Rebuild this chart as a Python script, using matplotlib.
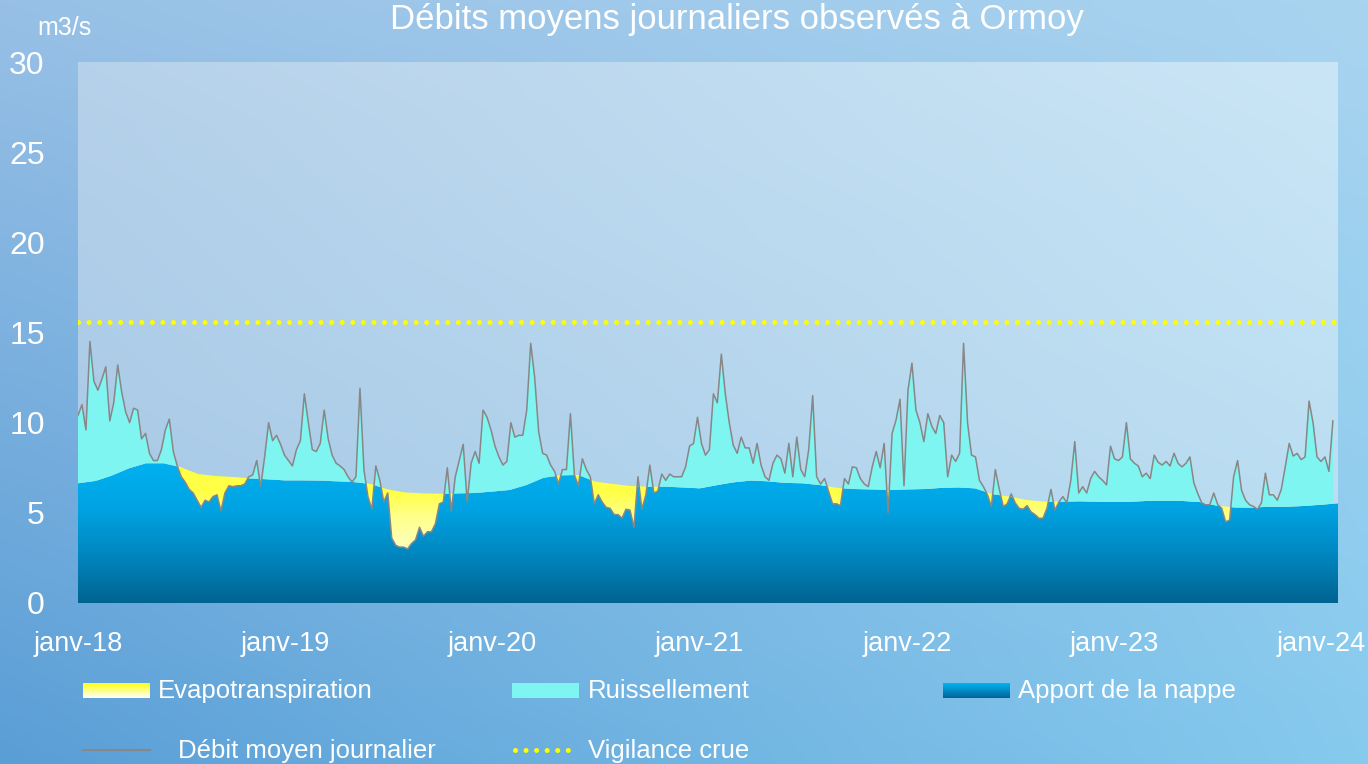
import numpy as np
import matplotlib
matplotlib.use('Agg')
import matplotlib.pyplot as plt
import matplotlib.dates as mdates
from matplotlib.colors import LinearSegmentedColormap, to_rgb
from matplotlib.path import Path
from matplotlib.lines import Line2D

plt.rcParams['font.family'] = ['Liberation Sans', 'DejaVu Sans']

# débit moyen journalier (m3/s), un relevé par semaine depuis le 1er janvier 2018
debit = [
    10.4, 11.0, 9.6, 14.5, 12.3, 11.8, 12.4, 13.1, 10.1, 11.1, 13.2, 11.7, 10.6, 10.0, 10.8, 10.7,
    9.1, 9.4, 8.3, 7.9, 7.9, 8.5, 9.6, 10.2, 8.4, 7.6, 7.0, 6.7, 6.3, 6.1, 5.7, 5.3,
    5.7, 5.6, 5.9, 6.0, 5.1, 6.1, 6.5, 6.45, 6.5, 6.5, 6.6, 7.0, 7.1, 7.9, 6.45, 8.1,
    10.0, 9.0, 9.3, 8.8, 8.2,
    7.9, 7.6, 8.5, 9.0, 11.6, 10.0, 8.5, 8.4, 8.85, 10.7, 9.1, 8.2, 7.75, 7.6, 7.4, 7.0,
    6.7, 7.0, 11.9, 7.4, 5.9, 5.2, 7.6, 6.8, 5.6, 6.1, 3.6, 3.2, 3.1, 3.1, 3.0, 3.3,
    3.5, 4.2, 3.7, 3.95, 3.95, 4.4, 5.5, 5.6, 7.5, 5.1, 7.0, 7.9, 8.8, 5.6, 7.75, 8.4,
    7.75, 10.7, 10.3, 9.6, 8.7,
    8.1, 7.65, 7.85, 10.0, 9.2, 9.3, 9.3, 10.7, 14.4, 12.5, 9.5, 8.3, 8.2, 7.65, 7.3, 6.6,
    7.4, 7.4, 10.5, 7.1, 6.5, 8.0, 7.4, 7.0, 5.5, 6.0, 5.6, 5.3, 5.25, 4.9, 4.9, 4.7,
    5.2, 5.15, 4.2, 7.0, 5.2, 6.0, 7.65, 6.1, 6.2, 7.15, 6.8, 7.15, 7.0, 7.0, 7.0, 7.55,
    8.7, 8.85, 10.3, 8.85, 8.2,
    8.5, 11.6, 11.1, 13.8, 11.6, 10.0, 8.75, 8.3, 9.2, 8.6, 8.6, 7.75, 8.85, 7.65, 7.0, 6.8,
    7.75, 8.2, 8.0, 7.2, 8.85, 7.0, 9.2, 7.4, 7.0, 8.5, 11.5, 7.0, 6.6, 6.9, 6.2, 5.5,
    5.5, 5.4, 6.9, 6.6, 7.55, 7.5, 6.9, 6.6, 6.45, 7.55, 8.4, 7.5, 8.85, 5.0, 9.4, 10.15,
    11.3, 6.5, 11.8, 13.3, 10.7,
    10.0, 8.95, 10.5, 9.8, 9.4, 10.4, 10.0, 7.0, 8.2, 7.85, 8.3, 14.4, 10.0, 8.2, 8.1, 6.8,
    6.45, 6.0, 5.35, 7.4, 6.3, 5.35, 5.5, 6.05, 5.55, 5.25, 5.2, 5.4, 5.05, 4.9, 4.7, 4.7,
    5.25, 6.3, 5.15, 5.6, 5.9, 5.55, 6.8, 8.95, 6.1, 6.45, 6.1, 6.9, 7.3, 7.0, 6.8, 6.55,
    8.7, 8.0, 7.9, 8.1, 10.0,
    8.0, 7.75, 7.6, 7.0, 7.2, 6.9, 8.2, 7.8, 7.65, 7.85, 7.6, 8.3, 7.75, 7.55, 7.75, 8.1,
    6.65, 6.05, 5.55, 5.45, 5.45, 6.1, 5.45, 5.25, 4.5, 4.6, 7.0, 7.9, 6.25, 5.7, 5.45, 5.35,
    5.2, 5.55, 7.2, 6.0, 6.0, 5.7, 6.3, 7.55, 8.85, 8.15, 8.3, 7.95, 8.1, 11.2, 10.0, 8.1,
    7.85, 8.1, 7.3, 10.1,
]

# apport de la nappe (m3/s), une valeur par mois depuis janvier 2018
nappe = [
    6.64, 6.77, 7.06, 7.47, 7.75, 7.75, 7.53, 7.15, 7.04, 6.99, 6.91, 6.86,
    6.80, 6.80, 6.79, 6.75, 6.71, 6.60, 6.30, 6.13, 6.08, 6.06, 6.08, 6.10,
    6.18, 6.27, 6.54, 6.95, 7.08, 7.10, 6.73, 6.60, 6.49, 6.45, 6.45, 6.41,
    6.36, 6.54, 6.69, 6.79, 6.75, 6.66, 6.64, 6.54, 6.38, 6.32, 6.30, 6.27,
    6.30, 6.32, 6.38, 6.41, 6.36, 6.04, 5.90, 5.71, 5.62, 5.62, 5.64, 5.62,
    5.60, 5.62, 5.66, 5.66, 5.66, 5.60, 5.40, 5.30, 5.29, 5.34, 5.34, 5.38,
    5.45, 5.53,
]

vigilance = 15.6
annees = ['2018', '2019', '2020', '2021', '2022', '2023', '2024']
etiquettes = ['janv-18', 'janv-19', 'janv-20', 'janv-21', 'janv-22', 'janv-23', 'janv-24']

jours = np.datetime64('2018-01-01') + 7 * np.arange(len(debit))
mois = np.arange('2018-01', '2024-03', dtype='datetime64[M]')[:len(nappe)].astype('datetime64[D]')
xd = mdates.date2num(jours)
xm = mdates.date2num(mois)
x0 = mdates.date2num(np.datetime64('2018-01-01'))
x1 = mdates.date2num(np.datetime64('2024-01-31'))


def degrade(tl, tr, bl, br, n=120):
    t = np.linspace(0, 1, n)
    X, Y = np.meshgrid(t, t)
    c = [np.array(to_rgb(h)) for h in (tl, tr, bl, br)]
    return (((1 - X) * (1 - Y))[..., None] * c[0] + (X * (1 - Y))[..., None] * c[1]
            + ((1 - X) * Y)[..., None] * c[2] + (X * Y)[..., None] * c[3])


def chemin(coll):
    return Path.make_compound_path(*coll.get_paths())


fig = plt.figure(figsize=(13.68, 7.64), dpi=100)

# fond de la figure
fond = fig.add_axes([0, 0, 1, 1], zorder=-5)
fond.imshow(degrade('#98c0e6', '#a9d4f0', '#5a9ed6', '#86caee'), aspect='auto',
            extent=[0, 1, 0, 1], interpolation='bilinear')
fond.axis('off')

ax = fig.add_axes([78 / 1368, 1 - 603 / 764, (1338 - 78) / 1368, (603 - 62) / 764])
ax.set_facecolor('none')
ax.set_xlim(x0, x1)
ax.set_ylim(0, 30)

fond_graph = degrade('#b6d1ea', '#cae6f6', '#a5c8e6', '#b8dcf1')
ax.imshow(fond_graph, extent=[x0, x1, 0, 30], aspect='auto', zorder=0, interpolation='bilinear')

# zones de découpe
sous_nappe = ax.fill_between(xm, 0, nappe, facecolor='none', edgecolor='none')
sur_nappe = ax.fill_between(xm, nappe, 31, facecolor='none', edgecolor='none')
sous_debit = ax.fill_between(xd, 0, debit, facecolor='none', edgecolor='none')
sur_debit = ax.fill_between(xd, debit, 31, facecolor='none', edgecolor='none')

grad = np.linspace(0, 8, 256).reshape(-1, 1)
cm_nappe = LinearSegmentedColormap.from_list(
    'nappe', [(0, '#006491'), (0.35, '#0088c2'), (0.65, '#00a3e2'), (1, '#00b2f2')])
cm_jaune = LinearSegmentedColormap.from_list(
    'jaune', [(0, '#ffffe8'), (0.35, '#ffffc4'), (0.6, '#ffff8a'), (0.76, '#ffff48'), (1, '#ffff40')])

im_nappe = ax.imshow(grad, origin='lower', extent=[x0, x1, 0, 8], aspect='auto',
                     cmap=cm_nappe, vmin=0, vmax=8, zorder=1)
im_nappe.set_clip_path(chemin(sous_nappe), transform=ax.transData)

im_jaune = ax.imshow(grad, origin='lower', extent=[x0, x1, 0, 8], aspect='auto',
                     cmap=cm_jaune, vmin=0, vmax=8, zorder=2)
im_jaune.set_clip_path(chemin(sur_debit), transform=ax.transData)

im_fond = ax.imshow(fond_graph, extent=[x0, x1, 0, 30], aspect='auto', zorder=3,
                    interpolation='bilinear')
im_fond.set_clip_path(chemin(sur_nappe), transform=ax.transData)

ruiss = ax.fill_between(xm, nappe, 31, facecolor='#7ff5f2', edgecolor='none', zorder=4)
ruiss.set_clip_path(chemin(sous_debit), transform=ax.transData)

ax.plot(xd, debit, color='#878787', lw=1.1, zorder=5)
ax.axhline(vigilance, color='#ffff00', lw=3.6, linestyle=(0, (0.01, 2.1)),
           dash_capstyle='round', zorder=6)

ax.set_xlim(x0, x1)
ax.set_ylim(0, 30)
ax.set_yticks([0, 5, 10, 15, 20, 25, 30])
ax.set_xticks(mdates.date2num(np.array([a + '-01-01' for a in annees], dtype='datetime64[D]')))
ax.set_xticklabels(etiquettes)
ax.tick_params(axis='y', length=0, pad=24, labelsize=23, labelcolor='white')
ax.tick_params(axis='x', length=0, pad=20, labelsize=19.5, labelcolor='white')
for s in ax.spines.values():
    s.set_visible(False)

fig.text(737 / 1368, 1 - 29 / 764, 'Débits moyens journaliers observés à Ormoy',
         ha='center', va='baseline', color='white', fontsize=25)
fig.text(37 / 1368, 1 - 35 / 764, 'm3/s', ha='left', va='baseline', color='white', fontsize=18)

# légende
def case(x, y, w, h, haut, bas):
    a = fig.add_axes([x / 1368, 1 - (y + h) / 764, w / 1368, h / 764])
    a.imshow(np.linspace(0, 1, 50).reshape(-1, 1), aspect='auto',
             cmap=LinearSegmentedColormap.from_list('c', [haut, bas]))
    a.axis('off')

case(83, 683, 67, 15, '#ffff00', '#ffffff')
case(512, 683, 67, 15, '#7ff5f2', '#7ff5f2')
case(943, 683, 67, 15, '#00b8f8', '#00649a')
fig.add_artist(Line2D([83 / 1368, 150 / 1368], [1 - 750 / 764] * 2, color='#878787', lw=1.5))
fig.add_artist(Line2D([515 / 1368, 576 / 1368], [1 - 750 / 764] * 2, color='#ffff00', lw=3.6,
                      linestyle=(0, (0.01, 2.1)), dash_capstyle='round'))

for x, y, t in [(158, 691, 'Evapotranspiration'), (588, 691, 'Ruissellement'),
                (1018, 691, 'Apport de la nappe'), (178, 751, 'Débit moyen journalier'),
                (588, 751, 'Vigilance crue')]:
    fig.text(x / 1368, 1 - y / 764, t, ha='left', va='center', color='white', fontsize=18.5)

fig.savefig('out.png', dpi=100)
